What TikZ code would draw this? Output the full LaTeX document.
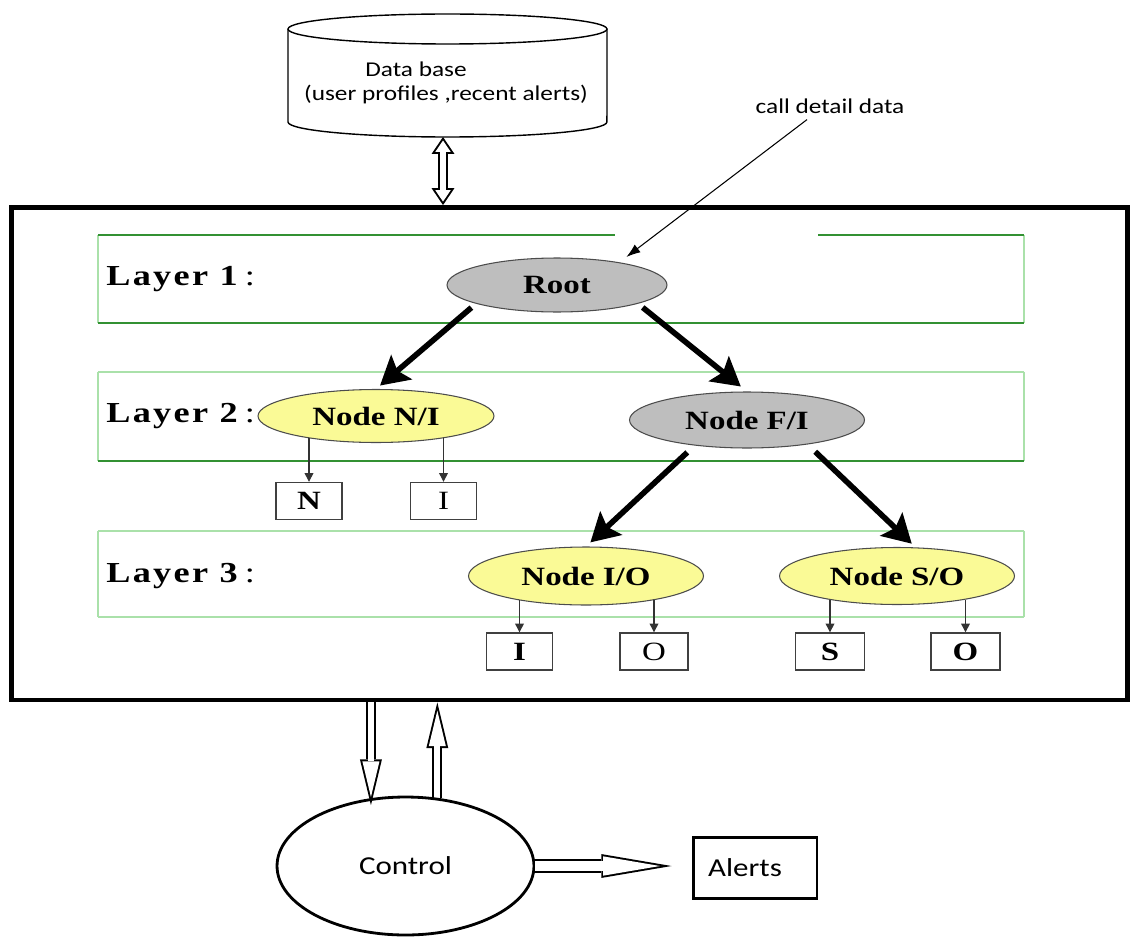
\documentclass[tikz,border=0pt]{standalone}
\usepackage{fontspec}
\setmainfont{Liberation Serif}
\newfontfamily\labelfont[FakeStretch=1.2]{Carlito}
\newfontfamily\treefont[FakeStretch=1.25]{Liberation Serif}
\newfontfamily\layerfont[FakeStretch=1.25, LetterSpace=8]{Liberation Serif}
\usetikzlibrary{shapes.geometric, arrows.meta, backgrounds, calc}

\definecolor{rootgray}{RGB}{190,190,190}
\definecolor{leafyellow}{RGB}{250,250,150}
\definecolor{banddark}{RGB}{50,145,50}
\definecolor{bandlight}{RGB}{170,225,170}

\tikzset{
    treenode/.style={ellipse, draw=black!70, line width=0.6pt, inner sep=0pt,
        minimum width=4.7cm, minimum height=1.12cm,
        font=\treefont\fontsize{15}{15}\selectfont\bfseries},
    graynode/.style={treenode, fill=rootgray},
    yellownode/.style={treenode, fill=leafyellow},
    leaf/.style={draw=black!75, line width=0.8pt, inner sep=0pt,
        minimum width=1.32cm, minimum height=0.74cm,
        font=\treefont\fontsize{15}{15}\selectfont},
    layer/.style={anchor=west, inner sep=0pt, font=\layerfont\fontsize{16.5}{16.5}\selectfont},
    band/.style={draw=bandlight, line width=0.6pt},
    bandedge/.style={draw=banddark, line width=0.7pt},
    fat/.style={line width=3.2pt, -{Stealth[length=16pt,width=18pt,inset=3pt]}},
    leafarrow/.style={draw=black!80, line width=0.7pt, -{Triangle[length=5pt,width=5pt]}},
    sans/.style={font=\labelfont\fontsize{12}{13.6}\selectfont},
    sansbig/.style={font=\labelfont\fontsize{14.7}{16}\selectfont},
    % outlined arrows: black outer stroke, white inner stroke
    hollow/.style={draw=white, line width=3.5pt, shorten >=4.7pt,
        -{Triangle[length=20.2pt,width=9.7pt,line width=0pt]},
        preaction={draw=black, line width=5.8pt, shorten >=0pt,
            -{Triangle[length=26pt,width=12.5pt,line width=0pt]}}},
    hollowwide/.style={draw=white, line width=5.8pt, shorten >=6.6pt,
        -{Triangle[length=32.3pt,width=11pt,line width=0pt]},
        preaction={draw=black, line width=8pt, shorten >=0pt,
            -{Triangle[length=40pt,width=13.6pt,line width=0pt]}}},
    hollowboth/.style={draw=white, line width=3.5pt, shorten >=2pt, shorten <=2pt,
        {Triangle[length=6.5pt,width=8.8pt,line width=0pt]}-{Triangle[length=6.5pt,width=8.8pt,line width=0pt]},
        preaction={draw=black, line width=5.7pt, shorten >=0pt, shorten <=0pt,
            {Triangle[length=9.6pt,width=13pt,line width=0pt]}-{Triangle[length=9.6pt,width=13pt,line width=0pt]}}},
}

\begin{document}
\begin{tikzpicture}[x=0.02cm, y=-0.02cm]
    \useasboundingbox (0,0) rectangle (1131,939);

    % data base cylinder
    \draw[line width=0.8pt] (447.5,29) ellipse [x radius=3.19cm, y radius=0.3cm];
    \draw[line width=0.8pt] (288,29) -- (288,122)
        arc[start angle=180, end angle=360, x radius=3.19cm, y radius=0.3cm] -- (607,29);
    \node[sans, align=center] (db) at (446,83) {Data base\hspace*{1.2cm}\\(user profiles ,recent alerts)};
    \coordinate (dbbase) at (443,137);

    % main frame
    \node[draw, line width=2.8pt, inner sep=0pt, minimum width=22.33cm, minimum height=9.85cm] (frame) at (569.75,453.75) {};

    % layer bands
    \foreach \t/\b in {235/323, 372/461, 531/617} {
        \draw[band] (98,\t) -- (98,\b) (1024,\t) -- (1024,\b);
    }
    \draw[bandedge] (98,235) -- (615,235) (818,235) -- (1024,235);
    \draw[bandedge] (98,323) -- (1024,323);
    \draw[band] (98,372) -- (1024,372);
    \draw[bandedge] (98,461) -- (1024,461);
    \draw[band] (98,531) -- (1024,531);
    \draw[band] (98,617) -- (1024,617);

    \node[layer] (l1) at (106,279) {\textbf{Layer 1}\,:};
    \node[layer] (l2) at (106,416) {\textbf{Layer 2}\,:};
    \node[layer] (l3) at (106,576) {\textbf{Layer 3}\,:};

    % tree
    \node[graynode, minimum width=4.4cm, minimum height=1.08cm] (root) at (557,285) {Root};
    \node[yellownode, minimum width=4.72cm, minimum height=1.06cm] (ni) at (376,416) {Node N/I};
    \node[graynode] (fi) at (747,420) {Node F/I};
    \node[yellownode, minimum height=1.16cm] (io) at (586,576) {Node I/O};
    \node[yellownode, minimum height=1.14cm] (so) at (897,576) {Node S/O};

    \node[leaf] (n-leaf) at (309,501) {\bfseries N};
    \node[leaf] (i-leaf) at (443.5,501) {I};
    \node[leaf] (io-i) at (519.5,651.5) {\bfseries I};
    \node[leaf, minimum width=1.36cm] (io-o) at (654,651.5) {O};
    \node[leaf, minimum width=1.38cm] (so-s) at (830,651.5) {\bfseries S};
    \node[leaf, minimum width=1.38cm] (so-o) at (965.5,651.5) {\bfseries O};

    \draw[fat, shorten <=3.4pt, shorten >=3pt] (root.193) -- (ni.north);
    \draw[fat, shorten <=3.4pt, shorten >=4.5pt] (root.347) -- (fi.north);
    \draw[fat, shorten <=5.7pt, shorten >=3.4pt] (fi.206.5) -- (io.north);
    \draw[fat, shorten <=6pt, shorten >=3pt] (fi.338.5) -- (so.57);

    \draw[leafarrow] (n-leaf |- ni.197) -- (n-leaf);
    \draw[leafarrow] (i-leaf |- ni.343) -- (i-leaf);
    \draw[leafarrow] (io-i |- io.200) -- (io-i);
    \draw[leafarrow] (io-o |- io.340) -- (io-o);
    \draw[leafarrow] (so-s |- so.200) -- (so-s);
    \draw[leafarrow] (so-o |- so.340) -- (so-o);

    % incoming data
    \node[sans] (calldata) at (830,106) {call detail data};
    \draw[line width=0.6pt, -{Latex[length=8pt,width=5.5pt]}, shorten >=5pt]
        ([xshift=-0.46cm]calldata.south) -- (root.20);

    % control and alerts
    \node[ellipse, draw, line width=1.6pt, minimum width=5.14cm, minimum height=2.76cm, sansbig] (ctrl) at (405.5,866) {Control};
    \node[draw, line width=1.7pt, minimum width=2.48cm, minimum height=1.22cm, sansbig] (alerts) at (755,868) {Alerts\hspace*{0.4cm}};

    \begin{scope}[on background layer]
        \draw[hollowboth] (dbbase) -- (dbbase |- frame.north);
        \draw[hollow] (ctrl.117 |- frame.south) -- ($(ctrl.117)+(0,7)$);
        \draw[hollow] (ctrl.65) -- (ctrl.65 |- frame.south);
    \end{scope}
    \draw[hollowwide] (ctrl.east) -- ($(ctrl.east -| alerts.west)+(-20,0)$);

\end{tikzpicture}
\end{document}
